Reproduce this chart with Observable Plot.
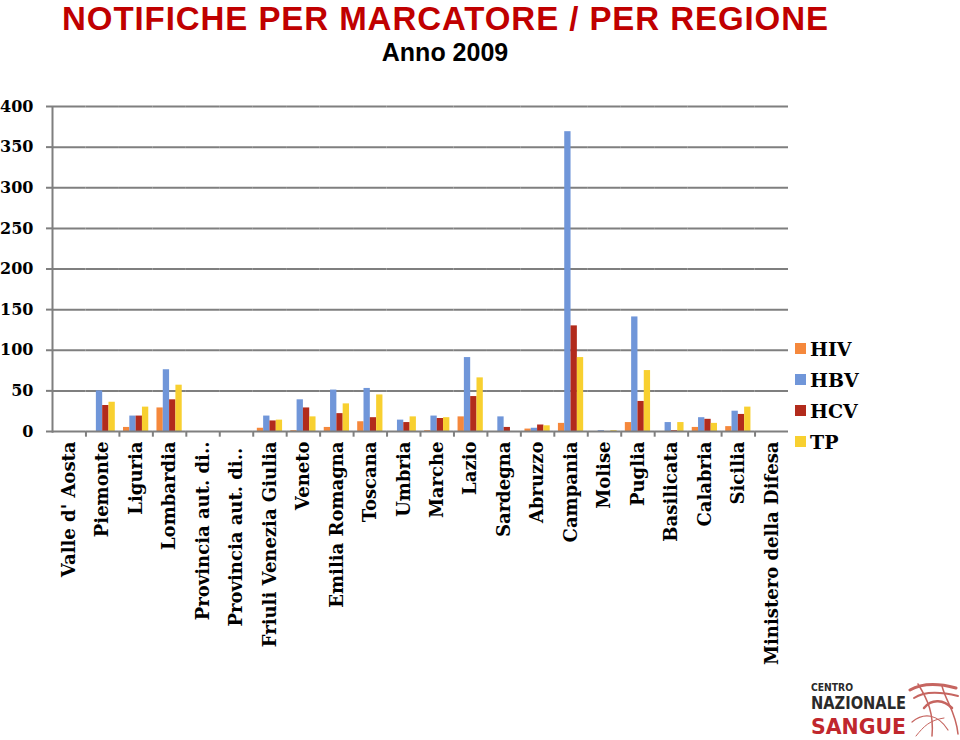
<!DOCTYPE html>
<html><head><meta charset="utf-8">
<script src="https://cdn.jsdelivr.net/npm/d3@7"></script>
<script src="https://cdn.jsdelivr.net/npm/@observablehq/plot@0.6"></script>
<style>
body{margin:0;background:#fff;width:960px;height:740px;position:relative;overflow:hidden;font-family:"Liberation Sans",Arial,sans-serif}
#head{display:block}
#chart svg{display:block}
#legend{position:absolute;left:795px;top:333px;font-family:"DejaVu Serif",serif;font-weight:bold;font-size:19px;color:#000}
#legend .row{height:31px;display:flex;align-items:center;line-height:24px}
#legend .sw{width:11px;height:11px;margin-right:4px}
#logo{position:absolute;left:806px;top:680px}
</style></head><body>
<svg id="head" width="960" height="70">
  <text x="445" y="30" text-anchor="middle" font-family="Liberation Sans, Arial, sans-serif" font-weight="bold" font-size="33" fill="#C00000" textLength="766" lengthAdjust="spacing">NOTIFICHE PER MARCATORE / PER REGIONE</text>
  <text x="445" y="61" text-anchor="middle" font-family="Liberation Sans, Arial, sans-serif" font-weight="bold" font-size="25" fill="#000">Anno 2009</text>
</svg>
<div id="chart"></div>
<div id="legend"></div>
<svg id="logo" width="154" height="60">
  <g fill="none" stroke="#B3322B" stroke-linecap="round" opacity="0.75">
    <path d="M104 10 C118 2, 135 4, 150 8" stroke-width="3"/>
    <path d="M108 18 C120 10, 136 12, 152 16" stroke-width="2"/>
    <path d="M112 4 C122 20, 128 34, 126 56" stroke-width="1.5"/>
    <path d="M118 28 C126 18, 138 20, 146 28" stroke-width="2.5"/>
    <path d="M106 42 C118 32, 132 34, 142 50" stroke-width="1.2"/>
    <path d="M136 6 C140 22, 150 32, 152 54" stroke-width="1.5"/>
    <path d="M110 56 C118 46, 124 40, 138 38" stroke-width="1"/>
  </g>
  <text x="5" y="10.5" font-family="DejaVu Sans, sans-serif" font-weight="bold" font-size="11" fill="#2a2a2a" textLength="42" lengthAdjust="spacingAndGlyphs">CENTRO</text>
  <text x="5" y="29" font-family="DejaVu Sans, sans-serif" font-weight="bold" font-size="17" fill="#2a2a2a" textLength="95" lengthAdjust="spacingAndGlyphs">NAZIONALE</text>
  <text x="5" y="53.5" font-family="DejaVu Sans, sans-serif" font-weight="bold" font-size="22" fill="#C0272D" textLength="95" lengthAdjust="spacingAndGlyphs">SANGUE</text>
</svg>
<script>
const regions = ["Valle d' Aosta","Piemonte","Liguria","Lombardia","Provincia aut. di..","Provincia aut. di.. ","Friuli Venezia Giulia","Veneto","Emilia Romagna","Toscana","Umbria","Marche","Lazio","Sardegna","Abruzzo","Campania","Molise","Puglia","Basilicata","Calabria","Sicilia","Ministero della Difesa"];
const markers = ["HIV","HBV","HCV","TP"];
const hiv = [0,0,5,29,0,0,4,1,5,12,0,1,18,0,3,10,0,11,0,5,6,0];
const hbv = [0,50,19,76,0,0,19,39,51,53,14,19,91,18,4,369,1,141,11,17,25,0];
const hcv = [0,32,19,39,0,0,13,29,22,17,11,16,43,5,8,130,0,37,1,15,21,0];
const tp  = [0,36,30,57,0,0,14,18,34,45,18,17,66,0,7,91,1,75,11,10,30,0];
const colors = ["#F5883C","#7096D9","#B22B1C","#F8D030"];
const yTicks = [0,50,100,150,200,250,300,350,400];

const series = [hiv,hbv,hcv,tp];
const data = regions.flatMap((r,i)=>markers.map((m,j)=>({region:r, marker:m, value:series[j][i]})));

const W=960, H=670, mL=52, mR=172, mT=36, mB=309;
const pOuter = 0.65;
const fw = (W-mL-mR)/regions.length;
const step = fw/(markers.length+2*pOuter);
const leftOff = -(pOuter+0.5)*step;
const gray = "#7f7f7f";
const serif = "DejaVu Serif, serif";

const chart = Plot.plot({
  width: W, height: H, marginLeft: mL, marginRight: mR, marginTop: mT, marginBottom: mB,
  style: {background:"#fff", color:"#000", overflow:"visible"},
  fx: {domain: regions, paddingInner: 0, paddingOuter: 0, round: false},
  x: {domain: markers, paddingInner: 0, paddingOuter: pOuter, round: false, axis: null},
  y: {domain: [0,400]},
  color: {domain: markers, range: colors},
  marks: [
    Plot.ruleY(yTicks.slice(1), {stroke: gray, strokeWidth: 2}),
    Plot.barY(data, {fx:"region", x:"marker", y:"value", fill:"marker"}),
    Plot.ruleY([0], {stroke: gray, strokeWidth: 2}),
    Plot.ruleX(regions.slice(1), {fx: d=>d, x: ()=>"HIV", dx: leftOff, y1: 0, y2: -7, stroke: gray, strokeWidth: 2}),
    Plot.ruleX([regions[0]], {fx: d=>d, x: ()=>"HIV", dx: leftOff, y1: -2, y2: 400, stroke: gray, strokeWidth: 2}),
    Plot.axisY({ticks: yTicks, tickSize: 6, tickPadding: 13, stroke: gray, strokeWidth: 2, fill: "#000", fontFamily: serif, fontWeight: "bold", fontSize: 16, label: null}),
    Plot.axisFx({anchor: "bottom", tickSize: 0, tickPadding: 10, tickRotate: -90, textAnchor: "end", fill: "#000", fontFamily: serif, fontWeight: "bold", fontSize: 18, label: null})
  ]
});
document.getElementById("chart").appendChild(chart);

const legend = document.getElementById("legend");
markers.forEach((m,j)=>{
  const row = document.createElement("div"); row.className="row";
  const sw = document.createElement("div"); sw.className="sw"; sw.style.background = colors[j];
  const t = document.createElement("span"); t.textContent = m;
  row.appendChild(sw); row.appendChild(t); legend.appendChild(row);
});
</script>
</body></html>
